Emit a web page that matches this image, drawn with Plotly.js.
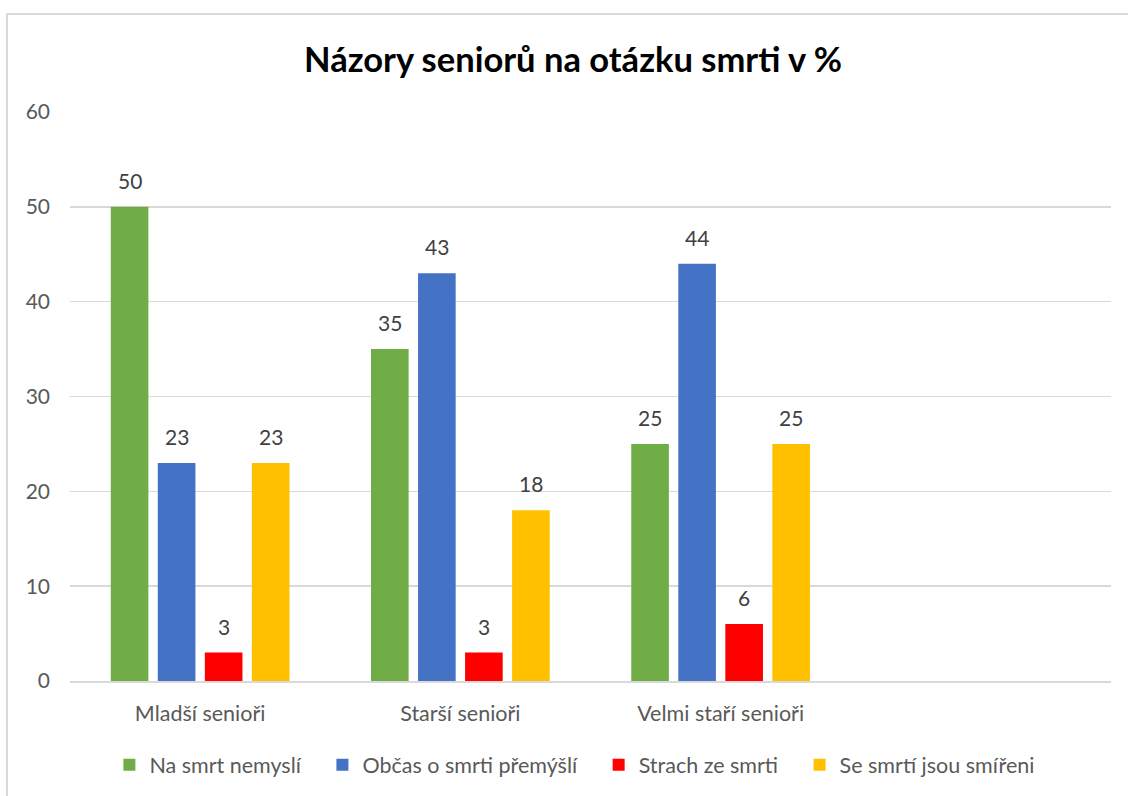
<!DOCTYPE html>
<html><head><meta charset="utf-8">
<script src="https://cdn.plot.ly/plotly-3.0.1.min.js"></script>
<style>html,body{margin:0;padding:0;background:#fff;overflow:hidden}
#frame{position:absolute;left:6px;top:13px;width:1300px;height:1000px;border:2px solid #d9d9d9;pointer-events:none}
</style></head><body>
<div id="chart" style="width:1128px;height:796px;position:absolute;left:0;top:0"></div>
<div id="frame"></div>
<script>
const categories = ['Mladší senioři', 'Starší senioři', 'Velmi staří senioři'];
const seriesNames = ['Na smrt nemyslí', 'Občas o smrti přemýšlí', 'Strach ze smrti', 'Se smrtí jsou smířeni'];
const naSmrtNemysli = [50, 35, 25];
const obcasPremysli = [23, 43, 44];
const strachZeSmrti = [3, 3, 6];
const seSmireni = [23, 18, 25];
const colors = ['#70AD47', '#4472C4', '#FF0000', '#FFC000'];
const yTicks = [0, 10, 20, 30, 40, 50, 60];

const FONT = 'Lato, Carlito, sans-serif';
const BARGAP = 0.277;
const PAD = '\u00a0\u00a0\u00a0';
const values = [naSmrtNemysli, obcasPremysli, strachZeSmrti, seSmireni];
const traces = values.map((v, i) => ({
  type: 'bar', name: seriesNames[i] + (i < values.length - 1 ? PAD : ''), x: categories, y: v,
  marker: {color: colors[i]}, hoverinfo: 'skip'
}));

// data labels above each bar, positioned from the group layout
const nSeries = values.length;
const slot = (1 - BARGAP) / nSeries;
const annotations = [];
values.forEach((v, i) => {
  v.forEach((val, j) => {
    annotations.push({
      x: j + (i - (nSeries - 1) / 2) * slot, y: val, xref: 'x', yref: 'y',
      text: String(val), showarrow: false, yanchor: 'bottom', yshift: 12,
      font: {family: FONT, size: 21, color: '#404040'}
    });
  });
});

const layout = {
  width: 1128, height: 796,
  margin: {l: 70, r: 17, t: 112, b: 114},
  paper_bgcolor: 'rgba(0,0,0,0)', plot_bgcolor: '#fff',
  title: {text: '<b>Názory seniorů na otázku smrti v %</b>', x: 0.508, xanchor: 'center', y: 0.925, yanchor: 'middle',
    font: {family: FONT, size: 34.5, color: '#000'}},
  barmode: 'group', bargap: BARGAP, bargroupgap: 0.2,
  xaxis: {type: 'category', categoryorder: 'array', categoryarray: categories, range: [-0.5, 3.5],
    showgrid: false, showline: true, linecolor: '#d9d9d9', linewidth: 2, ticks: '', ticklabelstandoff: 12,
    tickfont: {family: FONT, size: 21.5, color: '#595959'}, fixedrange: true},
  yaxis: {range: [0, 60], tickvals: yTicks, showgrid: true, gridcolor: '#d9d9d9', gridwidth: 1.5,
    zeroline: false, showline: false, ticks: '', ticklabelstandoff: 19,
    tickfont: {family: FONT, size: 21, color: '#595959'}, fixedrange: true},
  legend: {orientation: 'h', x: 0.485, xanchor: 'center', y: -0.145, yanchor: 'middle',
    font: {family: FONT, size: 21.5, color: '#595959'}, itemwidth: 30, traceorder: 'normal'},
  annotations: annotations,
  showlegend: true
};
Plotly.newPlot('chart', traces, layout, {displayModeBar: false, staticPlot: true});
</script>
</body></html>
